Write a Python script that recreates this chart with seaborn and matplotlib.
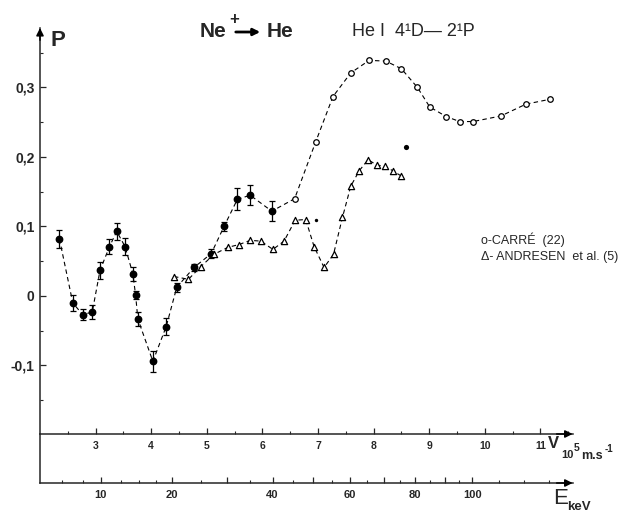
import numpy as np
import pandas as pd
import matplotlib
matplotlib.use("Agg")
import matplotlib.pyplot as plt
import seaborn as sns
from matplotlib import font_manager

# ---------------- data ----------------
# filled points with error bars (this work)
v_exp = [2.35, 2.59, 2.77, 2.94, 3.08, 3.25, 3.38, 3.53, 3.67, 3.72, 3.76,
         4.03, 4.27, 4.46, 4.77, 5.08, 5.31, 5.55, 5.78, 6.17]
p_exp = [0.082, -0.010, -0.027, -0.023, 0.037, 0.071, 0.093, 0.071, 0.032,
         0.001, -0.033, -0.094, -0.044, 0.0125, 0.041, 0.061, 0.100, 0.139,
         0.145, 0.122]
err_exp = [0.0125, 0.011, 0.008, 0.0095, 0.012, 0.0105, 0.012, 0.012, 0.010,
           0.006, 0.010, 0.015, 0.012, 0.0065, 0.0055, 0.006, 0.007, 0.016,
           0.0145, 0.0145]

# CARRE (22), open circles
v_carre = [6.58, 6.96, 7.27, 7.59, 7.92, 8.22, 8.50, 8.79, 9.01, 9.31, 9.55,
           9.79, 10.29, 10.74, 11.17]
p_carre = [0.140, 0.222, 0.287, 0.321, 0.339, 0.338, 0.327, 0.300, 0.272,
           0.258, 0.251, 0.251, 0.259, 0.276, 0.283]

# ANDRESEN et al. (5), open triangles
v_andr = [4.41, 4.67, 4.89, 5.13, 5.38, 5.58, 5.78, 5.97, 6.19, 6.39, 6.59,
          6.78, 6.93, 7.11, 7.28, 7.44, 7.59, 7.74, 7.90, 8.07, 8.20, 8.35,
          8.49]
p_andr = [0.028, 0.024, 0.042, 0.060, 0.070, 0.074, 0.080, 0.079, 0.067,
          0.079, 0.109, 0.110, 0.071, 0.041, 0.060, 0.113, 0.158, 0.180,
          0.196, 0.188, 0.187, 0.180, 0.173]

# isolated small filled marks
v_dot_small = [6.96]
p_dot_small = [0.109]
v_dot_big = [8.59]
p_dot_big = [0.215]

y_major = [-0.1, 0.0, 0.1, 0.2, 0.3]
y_major_labels = ["-0,1", "0", "0,1", "0,2", "0,3"]
y_minor = [-0.15, -0.05, 0.05, 0.15, 0.25, 0.35]
v_major = [3, 4, 5, 6, 7, 8, 9, 10, 11]
v_minor = [2.5, 3.5, 4.5, 5.5, 6.5, 7.5, 8.5, 9.5, 10.5, 11.5]
e_labelled = [10, 20, 40, 60, 80, 100]
e_major = [10, 20, 30, 40, 50, 60, 70, 80, 90, 100]
e_minor = [6, 8, 12.5, 15, 17.5, 25, 35, 45, 55, 65, 75, 85, 95, 110, 120, 130]
E_PER_V2 = 1.046   # keV per (1e5 m/s)^2 for Ne

# ---------------- style ----------------
sns.set_style("ticks")
avail = {f.name for f in font_manager.fontManager.ttflist}
main_font = "Liberation Sans Narrow" if "Liberation Sans Narrow" in avail else "Liberation Sans"
plt.rcParams["font.family"] = [main_font, "DejaVu Sans"]

fig = plt.figure(figsize=(6.25, 5.13), dpi=100)
W, H = 625.0, 513.0


def fx(px):
    return px / W


def fy(py):
    return 1 - py / H


ax = fig.add_axes([fx(40), fy(434), fx(572.6) - fx(40), fy(28) - fy(434)])
ax.set_facecolor("none")

dash = (0, (4.0, 3.0))
df_main = pd.DataFrame({"V": v_exp + v_carre, "P": p_exp + p_carre})
sns.lineplot(data=df_main, x="V", y="P", sort=False, estimator=None,
             color="black", lw=0.8, linestyle=dash, ax=ax)
df_andr = pd.DataFrame({"V": v_andr, "P": p_andr})
sns.lineplot(data=df_andr, x="V", y="P", sort=False, estimator=None,
             color="black", lw=0.8, linestyle=dash, ax=ax)

ax.errorbar(v_exp, p_exp, yerr=err_exp, fmt="o", ms=4.6, color="black",
            ecolor="black", elinewidth=0.9, capsize=2.0, capthick=0.9, zorder=4)
sns.scatterplot(x=v_carre, y=p_carre, marker="o", s=16, facecolor="white",
                edgecolor="black", linewidth=0.9, ax=ax, zorder=5)
sns.scatterplot(x=v_andr, y=p_andr, marker="^", s=20, facecolor="white",
                edgecolor="black", linewidth=0.9, ax=ax, zorder=5)
sns.scatterplot(x=v_dot_small, y=p_dot_small, marker="o", s=6, color="black",
                linewidth=0, ax=ax, zorder=5)
sns.scatterplot(x=v_dot_big, y=p_dot_big, marker="o", s=14, color="black",
                linewidth=0, ax=ax, zorder=5)

ax.set_xlim(2.0, 11.58)
ax.set_ylim(-0.1986, 0.3856)
ax.set_xlabel("")
ax.set_ylabel("")
for s in ("top", "right"):
    ax.spines[s].set_visible(False)
for s in ("left", "bottom"):
    ax.spines[s].set_linewidth(1.1)

ax.set_yticks(y_major)
ax.set_yticklabels(y_major_labels, fontsize=10, fontweight="bold")
ax.set_yticks(y_minor, minor=True)
ax.set_xticks(v_major)
ax.set_xticklabels([str(v) for v in v_major], fontsize=7.5, fontweight="bold")
ax.set_xticks(v_minor, minor=True)
ax.tick_params(axis="both", which="major", direction="in", length=4, width=0.9)
ax.tick_params(axis="both", which="minor", direction="in", length=2, width=0.8)
ax.tick_params(axis="x", which="major", pad=5)
ax.tick_params(axis="y", which="major", pad=4)

# axis arrows
ax.annotate("", xy=(1.0, 0.0), xytext=(0.97, 0.0), xycoords="axes fraction",
            arrowprops=dict(arrowstyle="-|>", color="black", lw=1.1,
                            mutation_scale=11, shrinkA=0, shrinkB=0))
ax.annotate("", xy=(0.0, 1.0), xytext=(0.0, 0.97), xycoords="axes fraction",
            arrowprops=dict(arrowstyle="-|>", color="black", lw=1.1,
                            mutation_scale=11, shrinkA=0, shrinkB=0))

# energy axis
axe = fig.add_axes([fx(40), fy(483), fx(572.6) - fx(40), fy(434) - fy(483)])
axe.set_facecolor("none")
axe.set_xlim(ax.get_xlim())
axe.set_ylim(0, 1)
for s in ("top", "right"):
    axe.spines[s].set_visible(False)
for s in ("left", "bottom"):
    axe.spines[s].set_linewidth(1.1)
axe.set_yticks([])
e_pos = [np.sqrt(e / E_PER_V2) for e in e_major]
axe.set_xticks(e_pos)
axe.set_xticklabels([str(e) if e in e_labelled else "" for e in e_major],
                    fontsize=8, fontweight="bold")
axe.set_xticks([np.sqrt(e / E_PER_V2) for e in e_minor], minor=True)
axe.tick_params(axis="x", which="major", direction="in", length=4, width=0.9, pad=5)
axe.tick_params(axis="x", which="minor", direction="in", length=2, width=0.8)
axe.annotate("", xy=(1.0, 0.0), xytext=(0.97, 0.0), xycoords="axes fraction",
             arrowprops=dict(arrowstyle="-|>", color="black", lw=1.1,
                             mutation_scale=11, shrinkA=0, shrinkB=0))

# ---------------- texts ----------------
fig.text(fx(50), fy(41), "P", fontsize=16, fontweight="bold", ha="left", va="center")

# title  Ne+ -> He
fig.text(fx(200), fy(37), "Ne", fontsize=15, fontweight="bold", ha="left", va="baseline")
fig.text(fx(229), fy(24), "+", fontsize=12, fontweight="bold", ha="left", va="baseline")
fig.add_artist(matplotlib.patches.FancyArrowPatch(
    (fx(233), fy(32)), (fx(263), fy(32)), transform=fig.transFigure,
    arrowstyle="-|>", mutation_scale=10, lw=2.0, color="black"))
fig.text(fx(267), fy(37), "He", fontsize=15, fontweight="bold", ha="left", va="baseline")

fig.text(fx(352), fy(36), "He I  4\u00b9D\u2014 2\u00b9P", fontsize=13,
         ha="left", va="baseline")

fig.text(fx(481), fy(244), "o-CARR\u00c9  (22)", fontsize=9, ha="left", va="baseline")
fig.text(fx(481), fy(260), "\u0394- ANDRESEN  et al. (5)", fontsize=9,
         ha="left", va="baseline")

fig.text(fx(548), fy(448), "V", fontsize=12, fontweight="bold", ha="left", va="baseline")
fig.text(fx(561), fy(458), "10", fontsize=8, fontweight="bold", ha="left", va="baseline")
fig.text(fx(574), fy(451), "5", fontsize=7.5, fontweight="bold", ha="left", va="baseline")
fig.text(fx(581), fy(459), "m.s", fontsize=9, fontweight="bold", ha="left", va="baseline")
fig.text(fx(605), fy(452), "-1", fontsize=7, fontweight="bold", ha="left", va="baseline")

fig.text(fx(553), fy(504), "E", fontsize=16, ha="left", va="baseline")
fig.text(fx(567), fy(510), "keV", fontsize=9.5, fontweight="bold", ha="left", va="baseline")

fig.savefig("out.png", dpi=100)
